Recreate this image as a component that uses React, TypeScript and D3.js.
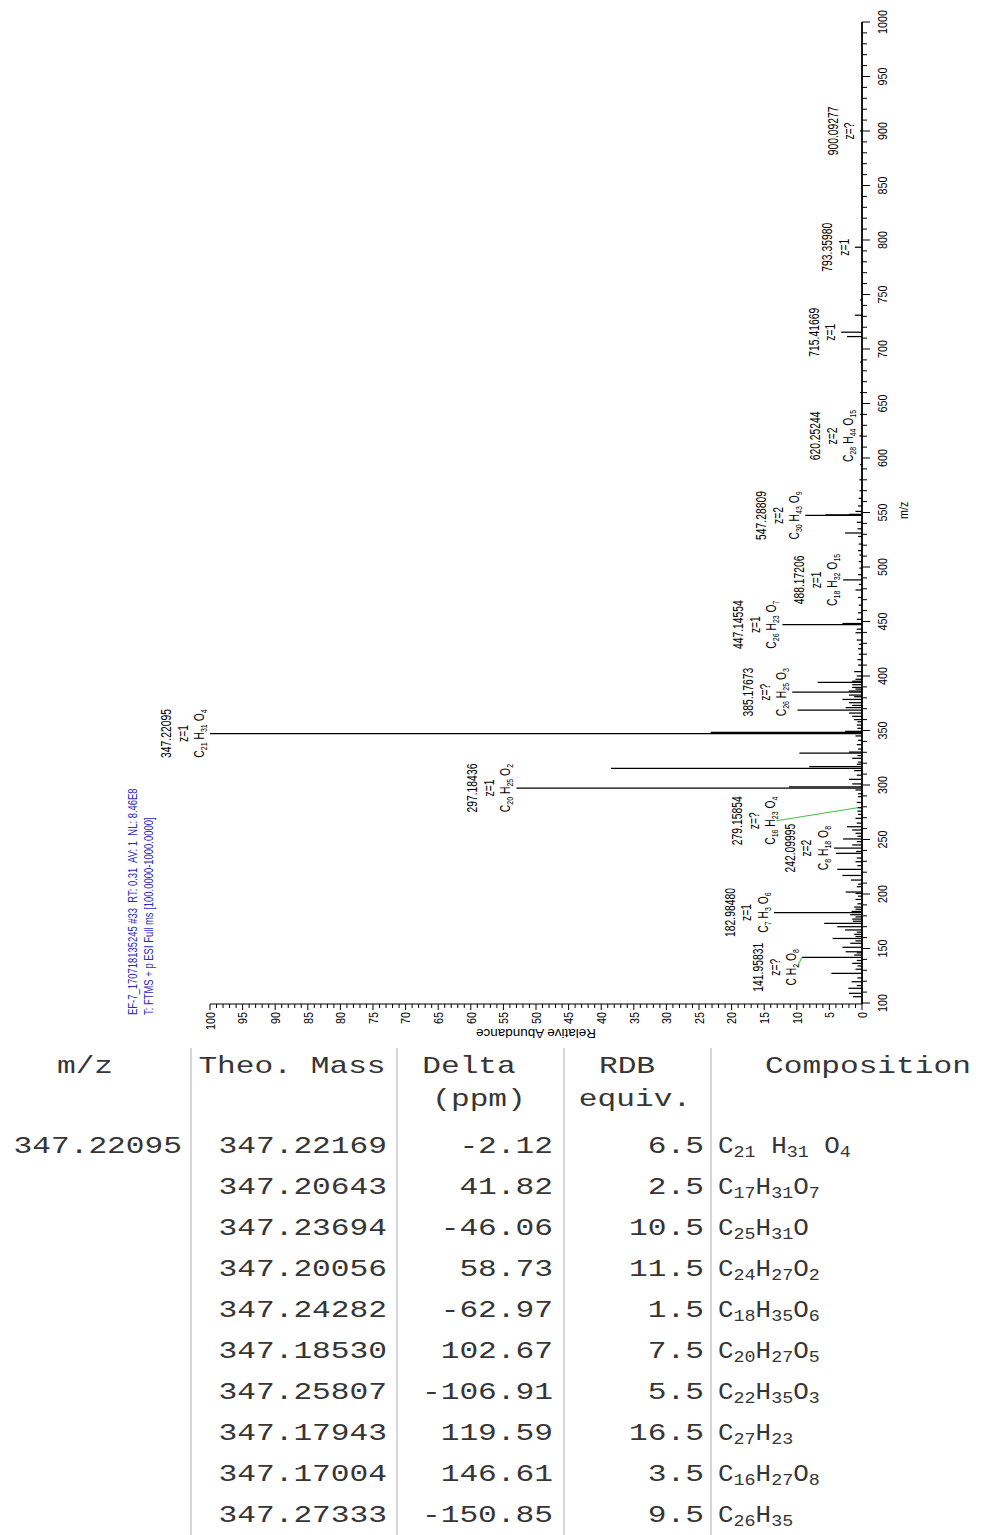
import React from 'react';
import * as d3 from 'd3';

// ---------- mass spectrum (centroid sticks) ----------
const peakMz = [
  105.8, 108.9, 113.5, 116.0, 119.5, 123.0, 127.2, 131.0, 134.0, 136.4, 139.0, 141.95831, 144.0, 146.0,
  147.0, 151.1, 154.8, 157.0, 159.2, 161.0, 163.0, 165.0, 167.0, 170.0, 173.0, 175.0, 177.0, 179.0,
  181.0, 182.9848, 184.0, 186.0, 188.0, 191.0, 195.0, 198.0, 200.6, 201.8, 206.7, 209.0, 212.8, 217.0,
  222.6, 226.0, 229.6, 233.0, 237.3, 239.0, 242.09995, 245.0, 248.0, 250.5, 253.0, 255.7, 258.7, 261.7,
  265.0, 269.4, 273.0, 276.0, 279.15854, 284.0, 289.3, 292.0, 295.4, 297.18436, 298.188, 301.0, 305.2,
  309.0, 313.2, 315.195, 316.8, 319.0, 321.0, 324.5, 327.0, 329.21, 330.21, 333.0, 337.0, 341.0, 345.0,
  347.22095, 348.224, 349.23, 352.0, 355.0, 358.0, 360.0, 363.0, 366.0, 368.8, 371.0, 373.0, 375.5,
  378.5, 381.0, 382.5, 385.17673, 386.18, 388.0, 389.5, 392.0, 394.2, 395.2, 397.0, 400.0, 404.0, 410.0,
  415.0, 420.0, 425.0, 429.0, 433.0, 439.7, 443.0, 447.14554, 448.15, 452.0, 458.0, 465.0, 472.0, 478.9,
  484.0, 488.17206, 493.0, 499.0, 505.0, 511.0, 515.0, 521.0, 528.0, 531.2, 535.0, 541.0, 547.28809,
  547.79, 548.29, 551.0, 556.0, 563.0, 570.0, 580.0, 594.0, 620.25244, 640.0, 660.0, 688.0, 711.4,
  715.41669, 731.0, 745.0, 793.3598, 900.09277,
];
const peakAbundance = [
  1.4, 2.0, 2.1, 0.8, 1.6, 0.7, 4.7, 1.0, 0.7, 1.5, 0.8, 9.2, 1.2, 0.8,
  2.5, 3.0, 1.8, 1.0, 4.5, 1.0, 1.2, 0.8, 2.6, 3.8, 5.8, 1.4, 1.5, 1.0,
  1.8, 13.5, 1.6, 1.0, 1.2, 0.7, 1.0, 0.6, 1.0, 2.5, 0.8, 0.6, 1.7, 3.0,
  3.8, 0.7, 1.0, 0.8, 4.0, 0.9, 4.3, 1.5, 0.8, 2.9, 0.7, 1.0, 1.5, 2.3,
  0.8, 1.0, 0.6, 0.7, 0.7, 0.8, 0.6, 0.6, 1.0, 53.0, 11.2, 1.5, 2.0,
  0.8, 1.2, 38.5, 8.1, 0.8, 0.6, 1.5, 0.7, 9.6, 2.0, 0.6, 0.8, 0.6, 1.0,
  100.0, 23.2, 2.6, 0.7, 0.8, 0.7, 1.2, 1.5, 2.0, 9.9, 2.5, 1.5, 2.0,
  3.0, 1.2, 2.0, 10.7, 2.0, 1.0, 1.5, 1.5, 6.8, 1.5, 1.0, 0.8, 1.2, 0.6,
  0.7, 0.5, 0.6, 0.5, 0.8, 1.0, 0.8, 12.2, 3.0, 0.8, 0.6, 0.5, 0.6, 1.0,
  0.5, 2.9, 0.6, 0.4, 0.5, 0.4, 0.6, 0.5, 0.6, 2.6, 0.7, 0.8, 8.7,
  5.6, 2.0, 1.0, 0.6, 0.5, 0.4, 0.4, 0.3, 0.4, 0.3, 0.3, 0.3, 2.3,
  3.2, 1.1, 0.3, 1.1, 0.3,
];

// annotated peaks
const annotatedMz = [
  347.22095, 297.18436, 385.17673, 447.14554, 488.17206, 547.28809, 620.25244,
  715.41669, 793.3598, 900.09277, 279.15854, 242.09995, 182.9848, 141.95831,
];
const annotatedText = [
  '347.22095', '297.18436', '385.17673', '447.14554', '488.17206', '547.28809', '620.25244',
  '715.41669', '793.35980', '900.09277', '279.15854', '242.09995', '182.98480', '141.95831',
];
const annotatedCharge = [
  'z=1', 'z=1', 'z=?', 'z=1', 'z=1', 'z=2', 'z=2', 'z=1', 'z=1', 'z=?', 'z=?', 'z=2', 'z=1', 'z=?',
];
const annotatedFormula = [
  'C21 H31 O4', 'C20 H25 O2', 'C26 H25 O3', 'C26 H23 O7', 'C18 H32 O15', 'C30 H43 O9', 'C28 H44 O15',
  '', '', '', 'C16 H23 O4', 'C8 H18 O8', 'C7 H3 O6', 'C H2 O8',
];

const scanHeader = [
  'EF-7_170718135245 #33  RT: 0.31  AV: 1  NL: 8.46E8',
  'T: FTMS + p ESI Full ms [100.0000-1000.0000]',
];
const mzAxisTitle = 'm/z';
const abundanceAxisTitle = 'Relative Abundance';

// ---------- elemental composition table ----------
const tableHeads = [['m/z'], ['Theo. Mass'], ['Delta', '(ppm)'], ['RDB', 'equiv.'], ['Composition']];
const measuredMz = '347.22095';
const theoMass = [
  '347.22169', '347.20643', '347.23694', '347.20056', '347.24282',
  '347.18530', '347.25807', '347.17943', '347.17004', '347.27333',
];
const deltaPpm = [-2.12, 41.82, -46.06, 58.73, -62.97, 102.67, -106.91, 119.59, 146.61, -150.85];
const rdbEquiv = [6.5, 2.5, 10.5, 11.5, 1.5, 7.5, 5.5, 16.5, 3.5, 9.5];
const composition = [
  'C21 H31 O4', 'C17 H31 O7', 'C25 H31 O', 'C24 H27 O2', 'C18 H35 O6',
  'C20 H27 O5', 'C22 H35 O3', 'C27 H23', 'C16 H27 O8', 'C26 H35',
];

// ---------- styling ----------
const sansFont = "'Liberation Sans', Arial, sans-serif";
const monoFont = "'Liberation Mono', 'Courier New', monospace";
const headerBlue = '#2a2abf';
const linkGreen = '#49bf49';
const tableInk = '#363636';

// label layout tweaks for crowded annotations (screen px)
const labelNudge: Record<string, { along: number; lift: number }> = {
  '279.15854': { along: -13, lift: 76 },
  '141.95831': { along: -10, lift: 0 },
};

function formulaSpans(formula: string, subSize: number, shift: number, spacer: string) {
  const tokens = formula.split(' ').map((t) => {
    const m = t.match(/^([A-Z][a-z]?)(\d*)$/);
    return m ? [m[1], m[2]] : [t, ''];
  });
  const out: React.ReactNode[] = [];
  let lowered = false;
  tokens.forEach(([el, n], i) => {
    out.push(
      <tspan key={`e${i}`} dy={lowered ? -shift : 0}>
        {(i > 0 ? spacer : '') + el}
      </tspan>
    );
    lowered = false;
    if (n) {
      out.push(
        <tspan key={`n${i}`} fontSize={subSize} dy={shift}>
          {n}
        </tspan>
      );
      lowered = true;
    }
  });
  return out;
}

function CText(props: {
  x: number; y: number; size?: number; sx?: number; anchor?: string; fill?: string;
  family?: string; dy?: string; children: React.ReactNode;
}) {
  const { x, y, size = 13.5, sx = 0.76, anchor = 'middle', fill = '#000', family = sansFont, dy } = props;
  return (
    <g transform={`translate(${x},${y})`}>
      <text
        transform={`scale(${sx},1)`}
        textAnchor={anchor as any}
        fontSize={size}
        fontFamily={family}
        fill={fill}
        dy={dy}
        style={{ whiteSpace: 'pre' }}
      >
        {props.children}
      </text>
    </g>
  );
}

export default function App() {
  const width = 981;
  const height = 1535;

  // spectrum frame: drawn upright, then turned a quarter turn counter-clockwise
  const originX = 862;
  const originY = 1003;
  const x = d3.scaleLinear().domain([100, 1000]).range([0, 981]);
  const y = d3.scaleLinear().domain([0, 100]).range([0, -652]);

  const mzTicks = d3.range(100, 1001, 10);
  const abTicks = d3.range(0, 101, 1);
  const abundanceOf = (mz: number) => peakAbundance[peakMz.indexOf(mz)] ?? 0;

  // table layout
  const colRight = [182, 387, 553, 704];
  const compLeft = 718;
  const headCenters = [85, 292, [469, 479], [627, 635], 868] as const;
  const headBase = [1073, 1106];
  const rowBase = (i: number) => 1153 + 41 * i;
  const separators = [191, 397, 564, 711];
  const tSize = 24;
  const tScale = 1.3;

  return (
    <svg
      width={width}
      height={height}
      viewBox={`0 0 ${width} ${height}`}
      style={{ position: 'absolute', left: 0, top: 0, background: '#fff' }}
    >
      <rect x={0} y={0} width={width} height={height} fill="#fff" />

      <g transform={`translate(${originX},${originY}) rotate(-90)`}>
        {/* scan header */}
        {scanHeader.map((s, i) => (
          <CText key={s} x={-12} y={y(100) - 73 + 15.5 * i} anchor="start" fill={headerBlue} size={13.5} sx={0.7}>
            {s}
          </CText>
        ))}

        {/* sticks */}
        {peakMz.map((mz, i) => (
          <line
            key={`p${i}`}
            x1={x(mz)}
            x2={x(mz)}
            y1={0}
            y2={y(peakAbundance[i])}
            stroke="#000"
            strokeWidth={1.25}
          />
        ))}

        {/* m/z axis */}
        <line x1={-1} x2={x(1000)} y1={0} y2={0} stroke="#000" strokeWidth={1.8} />
        {mzTicks.map((t) => (
          <line key={`mt${t}`} x1={x(t)} x2={x(t)} y1={0} y2={t % 50 === 0 ? 8 : 5} stroke="#000" strokeWidth={1} />
        ))}
        {mzTicks
          .filter((t) => t % 50 === 0)
          .map((t) => (
            <CText key={`ml${t}`} x={x(t)} y={24.5} size={13.5} sx={0.8}>
              {String(t)}
            </CText>
          ))}
        <CText x={x(552)} y={46} size={13.5} sx={0.8}>
          {mzAxisTitle}
        </CText>

        {/* abundance axis */}
        <line x1={-1} x2={-1} y1={0} y2={y(100)} stroke="#000" strokeWidth={1.2} />
        {abTicks.map((t) => (
          <line key={`at${t}`} x1={-1} x2={t % 5 === 0 ? -7 : -5} y1={y(t)} y2={y(t)} stroke="#000" strokeWidth={1} />
        ))}
        {abTicks
          .filter((t) => t % 5 === 0)
          .map((t) => (
            <CText key={`al${t}`} x={-9} y={y(t)} anchor="end" size={13.5} sx={0.8} dy="0.36em">
              {String(t)}
            </CText>
          ))}
        <g transform={`translate(-26,${y(50)}) rotate(-90)`}>
          <text
            transform="scale(1,1)"
            textAnchor="middle"
            fontSize={13.5}
            fontFamily={sansFont}
            fill="#000"
          >
            {abundanceAxisTitle}
          </text>
        </g>

        {/* peak annotations */}
        {annotatedMz.map((mz, i) => {
          const key = annotatedText[i];
          const nudge = labelNudge[key] ?? { along: 0, lift: 0 };
          const px = x(mz);
          const top = y(abundanceOf(mz));
          const lx = px + nudge.along;
          const base = top - nudge.lift;
          const lines: { kind: string; text: string }[] = [
            { kind: 'mz', text: annotatedText[i] },
            { kind: 'z', text: annotatedCharge[i] },
          ];
          if (annotatedFormula[i]) lines.push({ kind: 'f', text: annotatedFormula[i] });
          const offsets = [-6, -22.5, -39];
          const n = lines.length;
          return (
            <g key={key}>
              {(nudge.along !== 0 || nudge.lift !== 0) && (
                <line x1={lx} y1={base - 5} x2={px} y2={top} stroke={linkGreen} strokeWidth={1.1} />
              )}
              {lines.map((ln, j) => {
                const ly = base + offsets[n - 1 - j];
                return (
                  <CText key={ln.kind} x={lx} y={ly} size={14} sx={0.74}>
                    {ln.kind === 'f' ? formulaSpans(ln.text, 9.5, 3, ' ') : ln.text}
                  </CText>
                );
              })}
            </g>
          );
        })}
      </g>

      {/* composition table */}
      {separators.map((sx) => (
        <line key={`s${sx}`} x1={sx} x2={sx} y1={1048} y2={height} stroke="#c8c8d2" strokeWidth={1.5} />
      ))}
      {tableHeads.map((lines, c) =>
        lines.map((h, r) => {
          const cc = headCenters[c] as any;
          const cx = Array.isArray(cc) ? cc[r] : cc;
          return (
            <CText key={`h${c}${r}`} x={cx} y={headBase[r]} size={tSize} sx={tScale} family={monoFont} fill={tableInk}>
              {h}
            </CText>
          );
        })
      )}
      <CText x={colRight[0]} y={rowBase(0)} anchor="end" size={tSize} sx={tScale} family={monoFont} fill={tableInk}>
        {measuredMz}
      </CText>
      {theoMass.map((m, i) => (
        <g key={`r${i}`}>
          <CText x={colRight[1]} y={rowBase(i)} anchor="end" size={tSize} sx={tScale} family={monoFont} fill={tableInk}>
            {m}
          </CText>
          <CText x={colRight[2]} y={rowBase(i)} anchor="end" size={tSize} sx={tScale} family={monoFont} fill={tableInk}>
            {deltaPpm[i].toFixed(2)}
          </CText>
          <CText x={colRight[3]} y={rowBase(i)} anchor="end" size={tSize} sx={tScale} family={monoFont} fill={tableInk}>
            {rdbEquiv[i].toFixed(1)}
          </CText>
          <CText x={compLeft} y={rowBase(i)} anchor="start" size={tSize} sx={1.08} family={monoFont} fill={tableInk}>
            {formulaSpans(composition[i], 17, 4, i === 0 ? ' ' : '')}
          </CText>
        </g>
      ))}
    </svg>
  );
}
